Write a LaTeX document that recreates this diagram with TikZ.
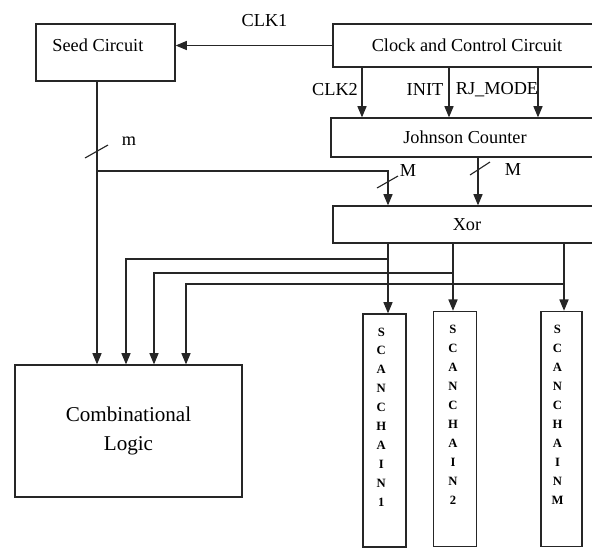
\documentclass[tikz,border=0pt]{standalone}
\usepackage{fontspec}
\setmainfont{Liberation Serif}
\usetikzlibrary{arrows.meta}

\begin{document}
\begin{tikzpicture}[x=0.025cm,y=-0.025cm,
    every node/.style={font=\fontsize{13}{15}\selectfont},
    box/.style={draw=black!85, line width=0.9pt, inner sep=0pt},
    chainbox/.style={box, minimum width=1.08cm, minimum height=5.88cm},
    arr/.style={draw=black!85, line width=0.8pt, -{Triangle[length=8pt,width=6.5pt]}},
    bus/.style={draw=black!85, line width=0.8pt},
    letters/.style={inner sep=0pt, align=center, font=\bfseries\fontsize{9}{13.5}\selectfont}]
    \useasboundingbox (0,0) rectangle (592,549);
    \clip (0,0) rectangle (592,549);

    % blocks
    \node[box, minimum width=3.475cm, minimum height=1.425cm,
          label={[xshift=-0.19cm, yshift=0.19cm]center:Seed Circuit}] (seed) at (105.5,52.5) {};
    \node[box, minimum width=6.7cm, minimum height=1.075cm] (clock) at (467,45.5) {Clock and Control Circuit};
    \node[box, minimum width=6.7cm, minimum height=0.975cm] (johnson) at (465,137.5) {Johnson Counter};
    \node[box, minimum width=6.7cm, minimum height=0.925cm] (xor) at (467,224.5) {Xor};
    \node[box, minimum width=5.675cm, minimum height=3.3cm, align=center,
          font=\fontsize{15}{20}\selectfont] (comb) at (128.5,431) {Combinational\\Logic};

    % scan chains
    \node[chainbox, minimum height=5.825cm,
          label={[letters, anchor=north, xshift=-0.08cm, yshift=-0.35cm]north:S\\C\\A\\N\\C\\H\\A\\I\\N\\1}] (chain1) at (384.5,430.5) {};
    \node[chainbox,
          label={[letters, anchor=north, xshift=-0.05cm, yshift=-0.35cm]north:S\\C\\A\\N\\C\\H\\A\\I\\N\\2}] (chain2) at (455,429) {};
    \node[chainbox, minimum width=1.03cm,
          label={[letters, anchor=north, xshift=-0.1cm, yshift=-0.35cm]north:S\\C\\A\\N\\C\\H\\A\\I\\N\\M}] (chainM) at (561.5,429) {};

    % clock lines
    \draw[arr] (clock.west) -- (clock.west -| seed.east);
    \node (clk1) at (264.5,21) {CLK1};
    \foreach \x in {362,449,538}
        \draw[arr] (clock.south -| \x,0) -- (johnson.north -| \x,0);
    \node (clk2) at (335,90) {CLK2};
    \node (init) at (425,90) {INIT};
    \node (rjmode) at (497,90) {RJ\_MODE};

    % seed bus
    \draw[arr] (seed.south -| 97,0) -- (comb.north -| 97,0);
    \draw[bus] (85,158) -- (108,145);
    \node (mseed) at (129,141) {m};
    \coordinate (mtap) at (97,171);
    \draw[arr] (mtap) -| (xor.north -| 388,0);
    \draw[bus] (377,188) -- (398,176);
    \node (m1) at (408,171) {M};

    % johnson to xor
    \draw[arr] (johnson.south -| 478,0) -- (xor.north -| 478,0);
    \draw[bus] (470,175) -- (490,162);
    \node (m2) at (513,170) {M};

    % xor outputs
    \draw[arr] (xor.south -| 388,0) -- (chain1.north -| 388,0);
    \draw[arr] (xor.south -| 453,0) -- (chain2.north -| 453,0);
    \draw[arr] (xor.south -| 564,0) -- (chainM.north -| 564,0);
    \coordinate (f1) at (388,259);
    \coordinate (f2) at (453,273);
    \coordinate (f3) at (564,284);
    \draw[arr] (f1) -| (comb.north -| 126,0);
    \draw[arr] (f2) -| (comb.north -| 154,0);
    \draw[arr] (f3) -| (comb.north -| 186,0);
\end{tikzpicture}
\end{document}
